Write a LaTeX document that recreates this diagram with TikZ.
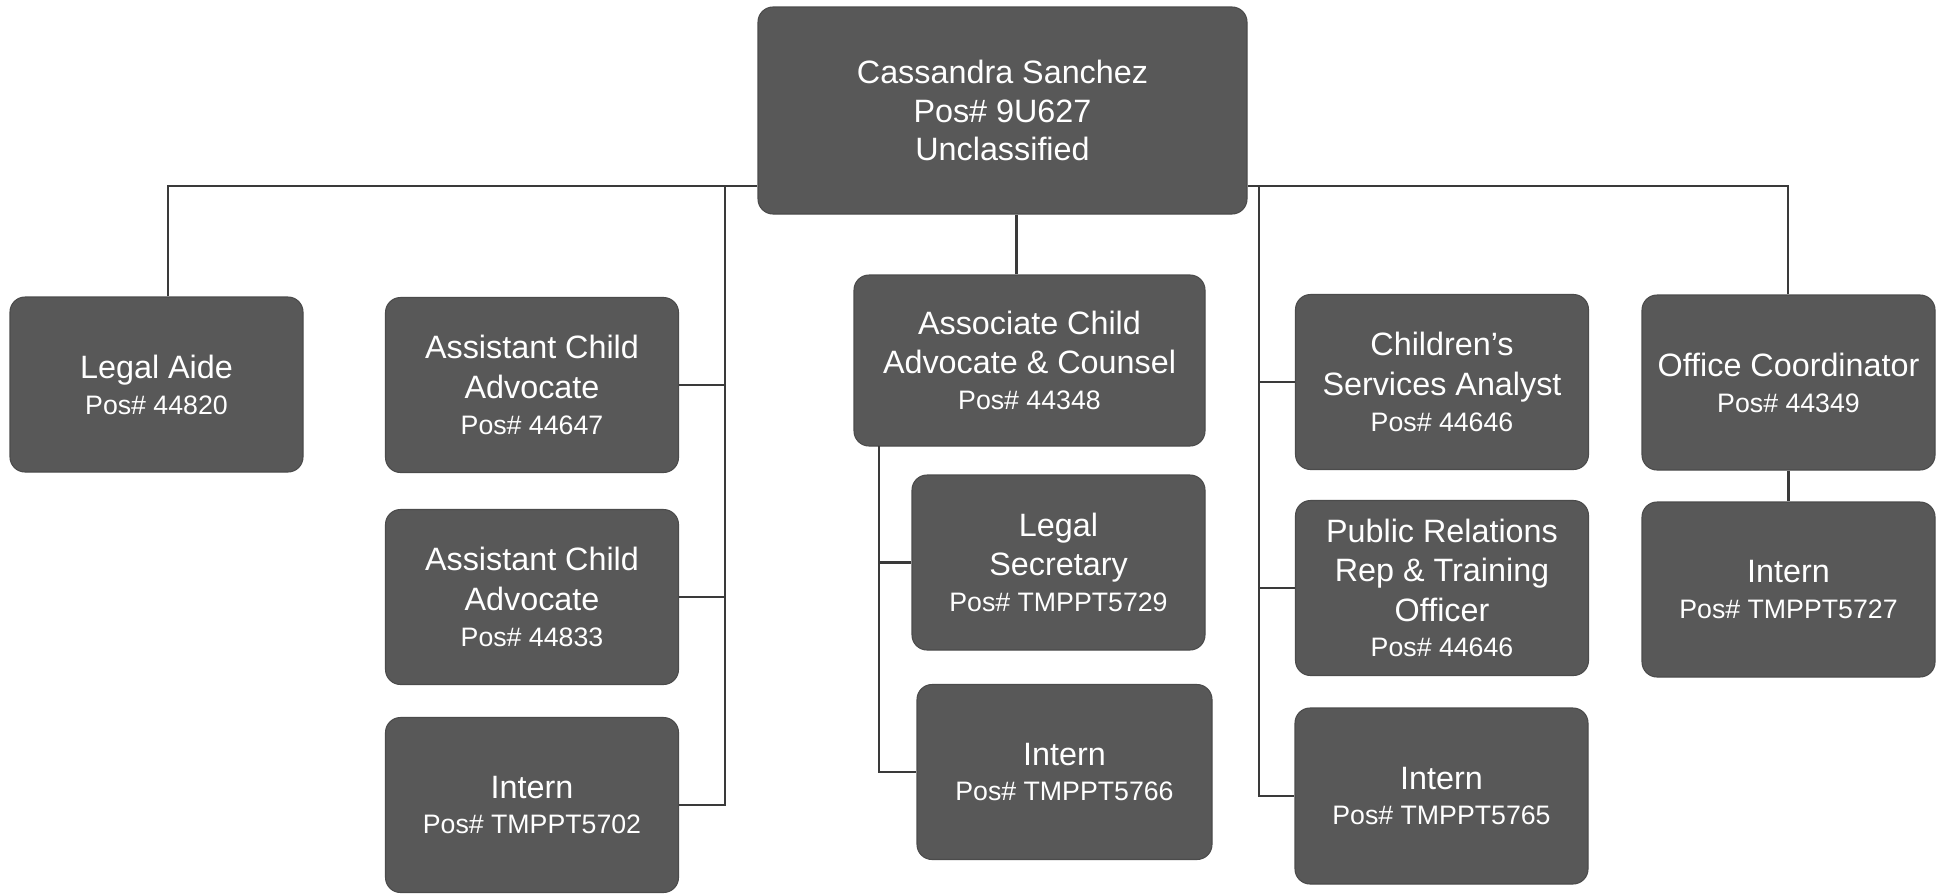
\documentclass[tikz,border=0pt]{standalone}
\usepackage{fontspec}
\setmainfont{Liberation Sans}
\usepackage{xcolor}
\usetikzlibrary{calc,
	positioning}
\definecolor{boxgray}{HTML}{585858}
\definecolor{linegray}{HTML}{3a3a3a}
\newcommand{\posno}[1]{\\[-1pt]{\fontsize{7.6}{9}\selectfont Pos\# #1}}

\begin{document}
\begin{tikzpicture}[x=0.1mm, y=-0.1mm,
	box/.style={rounded corners=1.5mm, fill=boxgray, draw=boxgray!85!black, line width=0.3pt,
		text=white, align=center, inner sep=0pt, minimum width=29.3mm, minimum height=17.5mm,
		font=\fontsize{9.2}{11.2}\selectfont},
	link/.style={draw=linegray, line width=0.6pt}]
	\useasboundingbox (0,0) rectangle (1941,894);
	% director
	\node[box, minimum width=48.9mm, minimum height=20.7mm] (top) at (1002.5,110.5) {Cassandra Sanchez\\[-0.3pt]Pos\# 9U627\\[-0.3pt]Unclassified};
	% left group
	\node[box] (legal) at (156.5,384.5) {Legal Aide\posno{44820}};
	\node[box] (asst1) at (532,385) {Assistant Child\\Advocate\posno{44647}};
	\node[box] (asst2) at (532,597) {Assistant Child\\Advocate\posno{44833}};
	\node[box] (intern1) at (532,805) {Intern\posno{TMPPT5702}};
	% centre group
	\node[box, minimum width=35.1mm, minimum height=17.1mm] (assoc) at (1029.5,360.5) {Associate Child\\Advocate \& Counsel\posno{44348}};
	\node[box] (legalsec) at (1058.5,562.5) {Legal\\Secretary\posno{TMPPT5729}};
	\node[box, minimum width=29.5mm] (intern2) at (1064.5,772) {Intern\posno{TMPPT5766}};
	% right group
	\node[box] (analyst) at (1442,382) {Children’s\\Services Analyst\posno{44646}};
	\node[box] (pr) at (1442,588) {Public Relations\\Rep \& Training\\Officer\posno{44646}};
	\node[box, minimum height=17.6mm] (intern3) at (1441.5,796) {Intern\posno{TMPPT5765}};
	\node[box] (office) at (1788.5,382.5) {Office Coordinator\posno{44349}};
	\node[box] (intern4) at (1788.5,589.5) {Intern\posno{TMPPT5727}};

	% bus and spines
	\coordinate (busL) at (168,186);
	\coordinate (busR) at (1788,186);
	\coordinate (spineL) at (725,186);
	\coordinate (spineR) at (1259,186);
	\coordinate (spineA) at (879,446);
	\draw[link] (busL |- legal.north) -- (busL) -- (top.west |- busL);
	\draw[link] (top.east |- busR) -- (busR) -- (busR |- office.north);
	\draw[link] (spineL) |- (intern1.east);
	\draw[link] (spineL |- asst1.east) -- (asst1.east);
	\draw[link] (spineL |- asst2.east) -- (asst2.east);
	\draw[link] ([xshift=-1.3mm]assoc.north) -- ([xshift=-1.3mm]assoc.north |- top.south);
	\draw[link] (spineA) |- (intern2.west);
	\draw[link] (spineA |- legalsec.west) -- (legalsec.west);
	\draw[link] (spineR) |- (intern3.west);
	\draw[link] (spineR |- analyst.west) -- (analyst.west);
	\draw[link] (spineR |- pr.west) -- (pr.west);
	\draw[link] (office.south) -- (intern4.north);
\end{tikzpicture}
\end{document}
